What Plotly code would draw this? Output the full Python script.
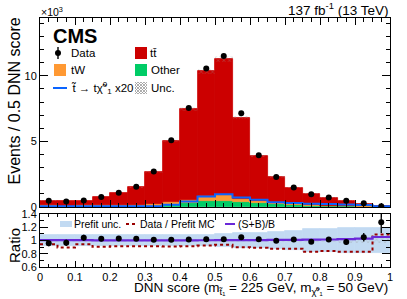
import numpy as np
import plotly.graph_objects as go

# ---------------- data (events in units of 10^3) ----------------
bin_edges = [0.0, 0.05, 0.1, 0.15, 0.2, 0.25, 0.3, 0.35, 0.4, 0.45, 0.5,
             0.55, 0.6, 0.65, 0.7, 0.75, 0.8, 0.85, 0.9, 0.95, 1.0]
data_obs = [0.47, 0.42, 0.50, 0.76, 1.08, 1.54, 2.71, 5.08, 7.55, 10.55, 11.50,
            7.15, 3.95, 2.28, 1.49, 0.98, 0.73, 0.47, 0.28, 0.06]
bkg_other = [0.08, 0.07, 0.07, 0.07, 0.07, 0.08, 0.10, 0.16, 0.28, 0.45, 0.42,
             0.35, 0.27, 0.20, 0.15, 0.10, 0.07, 0.05, 0.03, 0.01]
bkg_tw = [0.04, 0.04, 0.05, 0.06, 0.08, 0.10, 0.14, 0.20, 0.25, 0.40, 0.48,
          0.27, 0.15, 0.10, 0.07, 0.05, 0.04, 0.03, 0.02, 0.005]
bkg_tt = [0.37, 0.325, 0.36, 0.61, 0.90, 1.32, 2.44, 4.67, 6.91, 9.49, 10.37,
          6.19, 3.45, 1.99, 1.25, 0.85, 0.61, 0.40, 0.217, 0.032]
signal_x20 = [0.05, 0.05, 0.05, 0.05, 0.05, 0.05, 0.06, 0.17, 0.42, 0.80, 0.98,
              0.73, 0.55, 0.37, 0.30, 0.25, 0.22, 0.20, 0.15, 0.05]
postfit_unc_rel = [0.02, 0.02, 0.02, 0.02, 0.02, 0.02, 0.02, 0.02, 0.02, 0.02,
                   0.02, 0.02, 0.02, 0.025, 0.025, 0.03, 0.03, 0.035, 0.035, 0.04]
prefit_unc_rel = [0.08, 0.08, 0.08, 0.08, 0.08, 0.08, 0.08, 0.08, 0.08, 0.09,
                  0.10, 0.11, 0.12, 0.13, 0.15, 0.17, 0.17, 0.19, 0.19, 0.19]
data_over_prefit = [0.945, 0.895, 0.945, 0.905, 0.912, 0.915, 0.915, 0.91, 0.915, 0.925,
                    0.935, 0.90, 0.89, 0.875, 0.875, 0.83, 0.84, 0.83, 0.83, 1.09]
signal_scale = 20

main_yticks = [0, 5, 10]
ratio_yticks = [0.6, 0.8, 1, 1.2, 1.4]

# ---------------- derived ----------------
edges = np.array(bin_edges)
centers = 0.5 * (edges[:-1] + edges[1:])
bw = edges[1] - edges[0]
d = np.array(data_obs)
other = np.array(bkg_other)
tw = np.array(bkg_tw)
tt = np.array(bkg_tt)
total = other + tw + tt
d_err = np.sqrt(d * 1000.0) / 1000.0
ratio = d / total
ratio_err = d_err / total
sig = np.array(signal_x20)
sbb = 1.0 + (sig / signal_scale) / total
pu = np.array(postfit_unc_rel)
pre = np.array(prefit_unc_rel)

def step(vals):
    v = list(vals)
    return list(edges), v + [v[-1]]

# ---------------- layout helpers (pixel -> paper) ----------------
W, H = 407, 299
ML, MR, MT, MB = 40, 17, 18, 32
PW = W - ML - MR
PH = H - MT - MB
def PX(x): return (x - ML) / PW
def PY(y): return (H - MB - y) / PH

FONT = "Liberation Sans, Arial, Helvetica, sans-serif"
C_TT = "#cc0000"
C_TW = "#ff9933"
C_OTHER = "#00cc66"
C_SIG = "#0a64ff"
C_BAND = "#c2daf2"
C_PREFIT = "#990000"
C_SB = "#6a28d8"

fig = go.Figure()

def solid(color):
    return dict(color=color, line=dict(color=color, width=0.8))

# main panel stack
fig.add_bar(x=centers, y=other, base=0, width=bw, marker=solid(C_OTHER),
            opacity=1, xaxis="x", yaxis="y")
fig.add_bar(x=centers, y=tw, base=other, width=bw, marker=solid(C_TW),
            opacity=1, xaxis="x", yaxis="y")
fig.add_bar(x=centers, y=tt, base=other + tw, width=bw, marker=solid(C_TT),
            opacity=1, xaxis="x", yaxis="y")
fig.add_bar(x=centers, y=2 * total * pu, base=total * (1 - pu), width=bw,
            marker=dict(color="rgba(0,0,0,0)", line_width=0,
                        pattern=dict(shape="x", fgcolor="#999999", size=4, solidity=0.25)),
            opacity=1, xaxis="x", yaxis="y")
sx, sy = step(sig)
fig.add_scatter(x=sx, y=sy, mode="lines", line=dict(color=C_SIG, width=2, shape="hv"),
                xaxis="x", yaxis="y")
fig.add_scatter(x=centers, y=d, mode="markers",
                marker=dict(color="black", size=6),
                error_y=dict(type="data", array=d_err, color="black", thickness=1.3, width=0),
                xaxis="x", yaxis="y")

# ratio panel
fig.add_bar(x=centers, y=2 * pre, base=1 - pre, width=bw,
            marker=solid(C_BAND), opacity=1, xaxis="x2", yaxis="y2")
fig.add_bar(x=centers, y=2 * pu, base=1 - pu, width=bw,
            marker=dict(color="rgba(0,0,0,0)", line_width=0,
                        pattern=dict(shape="x", fgcolor="#999999", size=4, solidity=0.25)),
            opacity=1, xaxis="x2", yaxis="y2")
px_, py_ = step(data_over_prefit)
fig.add_scatter(x=px_, y=py_, mode="lines",
                line=dict(color=C_PREFIT, width=2, dash="dot", shape="hv"),
                xaxis="x2", yaxis="y2")
bx_, by_ = step(sbb)
fig.add_scatter(x=bx_, y=by_, mode="lines", line=dict(color=C_SB, width=2.2, shape="hv"),
                xaxis="x2", yaxis="y2")
fig.add_scatter(x=centers, y=ratio, mode="markers", marker=dict(color="black", size=6),
                error_y=dict(type="data", array=ratio_err, color="black", thickness=1.3, width=0),
                cliponaxis=True, xaxis="x2", yaxis="y2")

dom_main = [PY(207), 1.0]
dom_ratio = [0.0, PY(214)]

axis_common = dict(showline=True, linecolor="black", linewidth=1, mirror="allticks",
                   ticks="inside", tickcolor="black", tickwidth=1, showgrid=False,
                   zeroline=False, automargin=False,
                   tickfont=dict(family=FONT, size=11, color="black"))

fig.update_layout(
    width=W, height=H, margin=dict(l=ML, r=MR, t=MT, b=MB, pad=0),
    paper_bgcolor="white", plot_bgcolor="white", barmode="overlay", bargap=0,
    showlegend=False,
    xaxis=dict(domain=[0, 1], range=[0, 1], anchor="y", dtick=0.1, ticklen=7,
               showticklabels=False,
               minor=dict(dtick=0.025, ticklen=4, ticks="inside", tickcolor="black", showgrid=False),
               **axis_common),
    yaxis=dict(domain=dom_main, range=[0, 14.4], anchor="x", tickvals=main_yticks, ticklen=8,
               minor=dict(dtick=1, ticklen=4, ticks="inside", tickcolor="black", showgrid=False),
               **axis_common),
    xaxis2=dict(domain=[0, 1], range=[0, 1], anchor="y2", dtick=0.1, ticklen=6,
                minor=dict(dtick=0.025, ticklen=3, ticks="inside", tickcolor="black", showgrid=False),
                **axis_common),
    yaxis2=dict(domain=dom_ratio, range=[0.6, 1.4], anchor="x2", tickvals=ratio_yticks, ticklen=8,
                minor=dict(dtick=0.1, ticklen=4, ticks="inside", tickcolor="black", showgrid=False),
                **axis_common),
)

shapes = []
ann = []

def text(x, y, s, size=11.5, xanchor="left", yanchor="middle", angle=0):
    ann.append(dict(x=PX(x), y=PY(y), xref="paper", yref="paper", text=s, showarrow=False,
                    xanchor=xanchor, yanchor=yanchor, textangle=angle,
                    font=dict(family=FONT, size=size, color="black"), borderpad=0))

def rect(x0, y0, x1, y1, color):
    shapes.append(dict(type="rect", xref="paper", yref="paper", x0=PX(x0), x1=PX(x1),
                       y0=PY(y1), y1=PY(y0), fillcolor=color, line=dict(width=0)))

def line(x0, y0, x1, y1, color, width=1.5, dash="solid"):
    shapes.append(dict(type="line", xref="paper", yref="paper", x0=PX(x0), x1=PX(x1),
                       y0=PY(y0), y1=PY(y1), line=dict(color=color, width=width, dash=dash)))

def hatch(x0, y0, x1, y1, sp=3.0, color="#999999"):
    w, h = x1 - x0, y1 - y0
    c = -h
    while c <= w:
        pts = []
        for (xx, yy) in [(c, 0), (c + h, h), (0, -c), (w, w - c)]:
            if 0 <= xx <= w and 0 <= yy <= h:
                pts.append((xx, yy))
        if len(pts) >= 2:
            pts = sorted(set(pts))
            line(x0 + pts[0][0], y0 + pts[0][1], x0 + pts[-1][0], y0 + pts[-1][1], color, 0.8)
        c += sp
    c = 0
    while c <= w + h:
        pts = []
        for (xx, yy) in [(c, 0), (c - h, h), (0, c), (w, c - w)]:
            if 0 <= xx <= w and 0 <= yy <= h:
                pts.append((xx, yy))
        if len(pts) >= 2:
            pts = sorted(set(pts))
            line(x0 + pts[0][0], y0 + pts[0][1], x0 + pts[-1][0], y0 + pts[-1][1], color, 0.8)
        c += sp

# header texts
text(40, 11, "×10<sup>3</sup>", size=10.5)
text(389, 9, "137 fb<sup>-1</sup> (13 TeV)", size=13.5, xanchor="right")
text(52, 36, "<b>CMS</b>", size=20)

# main legend
line(58, 47, 58, 59, "black", 1.4)
shapes.append(dict(type="circle", xref="paper", yref="paper", x0=PX(55), x1=PX(61),
                   y0=PY(56), y1=PY(50), fillcolor="black", line=dict(width=0)))
text(70, 53, "Data")
rect(135, 47, 147, 59, C_TT)
text(149, 53, "tt\u0304")
rect(54, 64, 66, 76, C_TW)
text(70, 70, "tW")
rect(135, 64, 147, 76, C_OTHER)
text(150, 70, "Other")
line(53, 88, 67, 88, C_SIG, 2)
text(70, 88, "t\u0303 → tχ\u0303<sup>0</sup><sub>1</sub> x20")
hatch(135, 82, 147, 94)
text(150, 88, "Unc.")

# ratio legend
rect(60, 221, 72, 227, C_BAND)
text(73, 224, "Prefit unc.", size=10.5)
line(126, 224, 137, 224, C_PREFIT, 2, "dot")
text(139, 224, "Data / Prefit MC", size=10.5)
line(225, 224, 235, 224, C_SB, 2)
text(237, 224, "(S+B)/B", size=10.5)

# axis titles
text(389, 279, "DNN score (m<sub>t\u0303₁</sub> = 225 GeV, m<sub>χ\u0303⁰₁</sub> = 50 GeV)",
     size=13.5, xanchor="right", yanchor="top")
text(14, 17, "Events / 0.5 DNN score", size=16, xanchor="center", yanchor="top", angle=-90)
text(14, 246, "Ratio", size=15, xanchor="center", angle=-90)

fig.update_layout(shapes=shapes, annotations=ann)
fig.write_html("out.html", config={"displayModeBar": False},
               post_script="document.body.style.margin='0';document.body.style.padding='0';")
